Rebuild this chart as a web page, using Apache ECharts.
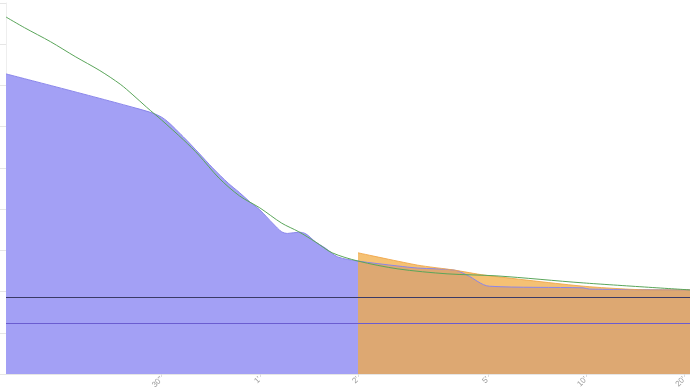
<!DOCTYPE html>
<html><head><meta charset="utf-8">
<script src="https://cdn.jsdelivr.net/npm/echarts@6/dist/echarts.min.js"></script>
<style>html,body{margin:0;padding:0;background:#fff}#c{width:690px;height:390px}</style>
</head><body><div id="c"></div>
<script>
// durations in seconds
var bestSecs = [10,25,30,35,39,43,48,52,56,60,66,70,73,79,83,89,95,104,120,159,183,237,259,303,588,614,1250];
var bestWatts = [728,645,623,575,536,500,463,440,417,398,364,345,341,344,340,320,306,284,274,262,257,252,240,213,209,206,204];
var recentSecs = [120,183,237,292,588,934,1250];
var recentWatts = [294,264,252,240,213,204,204];
var modelSecs = [10,11.4,13.7,16.3,19.4,22.4,24.5,27,30,35,39,45,52,60,70,79,89,100,120,159,225,320,588,1250];
var modelWatts = [866,840,806,770,736,703,677,647,616,568,531,475,432,403,366,345,320,294,274,255,243,238,221,204];
var refLines = [187,124];
var tickSecs = [30,60,120,300,600,1200];
var tickLabels = ['30"',"1'","2'","5'","10'","20'"];

function pairs(a,b){return a.map(function(v,i){return [v,b[i]];});}
var chart = echarts.init(document.getElementById('c'));
chart.setOption({
  animation:false,
  grid:{left:6,right:0,top:3,bottom:16,outerBoundsMode:'none',containLabel:false},
  xAxis:{type:'log',logBase:2,min:10,max:1250,
    axisLine:{show:true,lineStyle:{color:'#e6e6e6'}},
    axisTick:{show:true,customValues:tickSecs,length:3,lineStyle:{color:'#ddd'}},
    splitLine:{show:false},minorTick:{show:false},
    axisLabel:{customValues:tickSecs,rotate:45,fontSize:8,color:'#999',margin:4,
      formatter:function(v){var i=tickSecs.indexOf(Math.round(v));return i>=0?tickLabels[i]:'';}}},
  yAxis:{type:'value',min:0,max:900,interval:100,
    axisLine:{show:true,lineStyle:{color:'#eeeeee'}},
    axisTick:{show:true,length:6,lineStyle:{color:'#e6e6e6'}},
    axisLabel:{show:false},splitLine:{show:false}},
  series:[
    {type:'line',data:pairs(bestSecs,bestWatts),smooth:0.3,showSymbol:false,
     lineStyle:{color:'#8a86ea',width:1},areaStyle:{color:'#a3a0f5',opacity:1},
     markLine:{silent:true,symbol:'none',label:{show:false},
       data:[{yAxis:refLines[0],lineStyle:{color:'#3a3a66',width:1,type:'solid'}},
             {yAxis:refLines[1],lineStyle:{color:'#6a5cd0',width:1,type:'solid'}}]}},
    {type:'line',data:pairs(recentSecs,recentWatts),smooth:0.2,showSymbol:false,
     lineStyle:{color:'rgba(240,165,70,0.85)',width:1},areaStyle:{color:'rgba(242,172,68,0.74)',opacity:1}},
    {type:'line',data:pairs(modelSecs,modelWatts),smooth:0.3,showSymbol:false,
     lineStyle:{color:'#5aa55a',width:1}}
  ]
});
</script></body></html>
